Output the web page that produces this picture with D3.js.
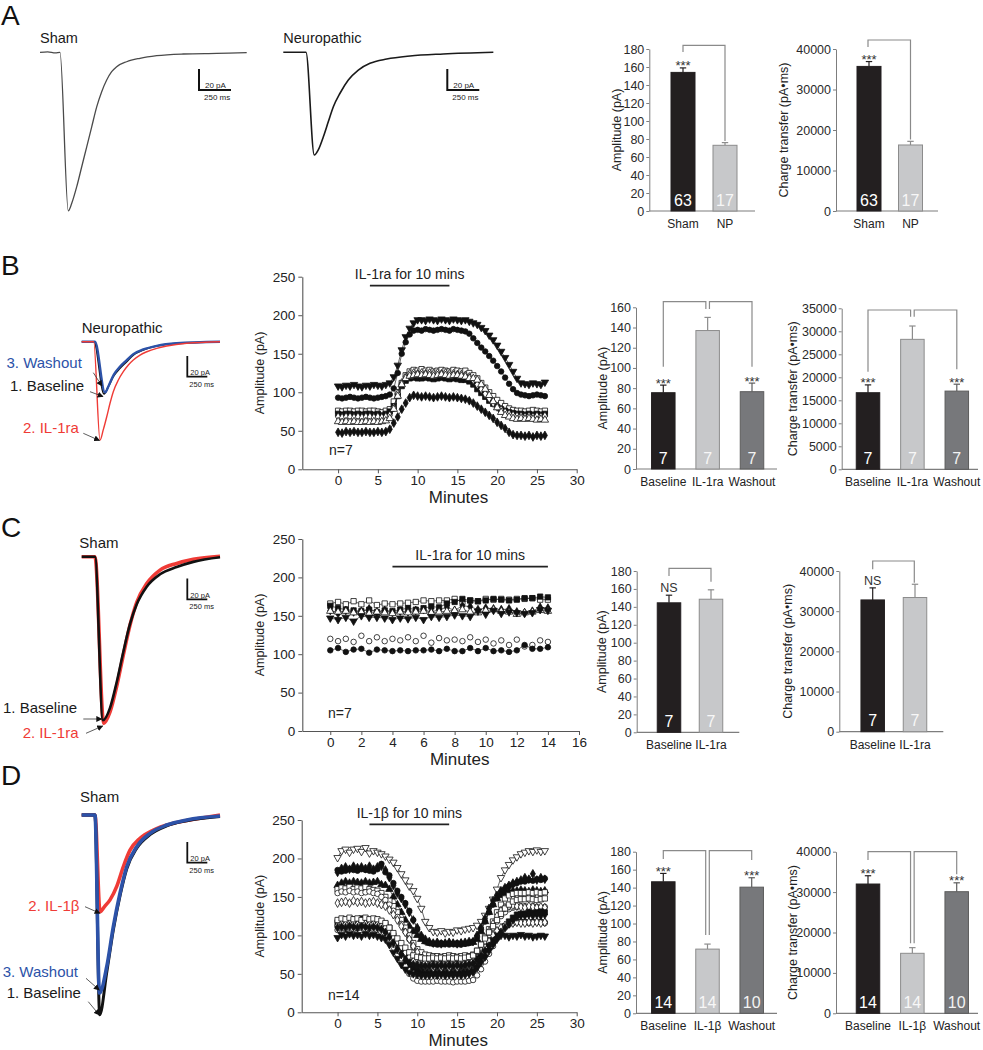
<!DOCTYPE html>
<html><head><meta charset="utf-8">
<script src="https://cdn.jsdelivr.net/npm/d3@7"></script>
<style>body{margin:0;background:#fff} svg{display:block}</style>
</head><body><svg id="fig" width="983" height="1050"></svg>
<script>
// ---------------- DATA ----------------
// Panel A bars
const catA = ["Sham", "NP"];
const ampA = [154, 73];
const ampAErr = [5, 3];
const chgA = [35700, 16300];
const chgAErr = [1200, 900];
const nA = ["63", "17"];
const sigA = ["***", ""];
// Panel B bars
const catB = ["Baseline", "IL-1ra", "Washout"];
const ampB = [75.5, 137, 76.5];
const ampBErr = [7.5, 13, 8.5];
const chgB = [16650, 28250, 17000];
const chgBErr = [1700, 2900, 1500];
const nB = ["7", "7", "7"];
const sigB = ["***", "", "***"];
// Panel C bars
const catC = ["Baseline", "IL-1ra"];
const ampC = [144.5, 148.5];
const ampCErr = [8.5, 10.5];
const chgC = [32800, 33400];
const chgCErr = [3000, 3300];
const nC = ["7", "7"];
const sigC = ["NS", ""];
// Panel D bars
const catD = ["Baseline", "IL-1\u03b2", "Washout"];
const ampD = [146.5, 71.5, 140.5];
const ampDErr = [9.3, 5.6, 10.5];
const chgD = [32000, 14850, 30100];
const chgDErr = [2050, 1400, 2200];
const nD = ["14", "14", "10"];
const sigD = ["***", "", "***"];

// axis ticks
const ticksAmp180 = [0,20,40,60,80,100,120,140,160,180];
const ticksAmp160 = [0,20,40,60,80,100,120,140,160];
const ticksChg40k = [0,10000,20000,30000,40000];
const ticksChg35k = [0,5000,10000,15000,20000,25000,30000,35000];
const ticksTCy = [0,50,100,150,200,250];
const ticksTCx30 = [0,5,10,15,20,25,30];
const ticksTCx16 = [0,2,4,6,8,10,12,14,16];

// Time-course sample times (min)
const tB = [0,0.5,1,1.5,2,2.5,3,3.5,4,4.5,5,5.5,6,6.5,7,7.5,8,8.5,9,9.5,10,10.5,11,11.5,12,12.5,13,13.5,14,14.5,15,15.5,16,16.5,17,17.5,18,18.5,19,19.5,20,20.5,21,21.5,22,22.5,23,23.5,24,24.5,25,25.5,26];
const tD = [0,0.5,1,1.5,2,2.5,3,3.5,4,4.5,5,5.5,6,6.5,7,7.5,8,8.5,9,9.5,10,10.5,11,11.5,12,12.5,13,13.5,14,14.5,15,15.5,16,16.5,17,17.5,18,18.5,19,19.5,20,20.5,21,21.5,22,22.5,23,23.5,24,24.5,25,25.5,26];
const tC = [0,0.5,1,1.5,2,2.5,3,3.5,4,4.5,5,5.5,6,6.5,7,7.5,8,8.5,9,9.5,10,10.5,11,11.5,12,12.5,13,13.5,14];

// Panel B time course (pA), n=7
const tcB1 = [108,107,109,108,110,108,107,109,108,110,109,108,110, 112,120,135,155,172,183,190,194, 194,193,195,194,193,195,194,193,195,194,193,194,192, 190,188,184,180,174,168,161,153,145,136,127,118, 112,111,110,112,111,110,113];
const tcB2 = [93,92,93,94,93,92,93,94,93,92,93,94,95, 97,105,125,150,165,175,180,181, 180,182,181,180,181,182,181,180,182,181,180,179,176, 170,164,158,153,147,141,134,127,119,111,104,99, 97,96,95,96,97,96,95];
const tcB3 = [76,75,76,76,75,76,76,75,76,76,75,74,76, 78,88,100,112,122,127,129,128, 130,128,129,127,128,129,128,127,129,128,127,128,125, 122,118,112,106,100,95,90,86,82,79,77,76, 76,75,76,77,76,75,76];
const tcB4 = [72,71,72,72,71,72,71,72,72,71,72,70,72, 75,82,95,108,115,118,119,118, 118,119,118,117,118,119,118,117,118,117,116,116,114, 110,104,99,94,89,85,81,78,76,74,73,72, 72,71,72,71,72,71,72];
const tcB5 = [68,67,68,68,67,68,67,68,68,67,68,67,68, 70,80,98,112,120,124,125,124, 125,124,125,124,125,124,125,124,124,123,123,122,120, 116,110,104,98,92,86,81,77,74,72,70,69, 69,68,69,68,69,68,69];
const tcB6 = [62,61,62,61,62,61,61,62,61,62,61,62,63, 66,78,95,110,118,121,122,123, 122,123,122,121,122,123,122,121,122,122,121,120,118, 118,116,110,104,96,88,80,74,70,68,66,65, 66,65,66,65,64,65,64];
const tcB7 = [48,47,49,48,49,48,48,49,48,48,49,48,49, 52,60,68,78,86,93,96,95, 94,95,94,93,94,95,94,93,94,93,92,91,89, 86,82,78,74,70,66,61,57,53,48,45,44, 44,43,44,42,44,43,44];

// Panel C time course (pA), n=7
const tcC1 = [166,168,165,169,165,170,164,166,165,166,167,168,170,169,170,170,172,168,170,169,172,171,172,171,172,172,173,171,171];
const tcC2 = [163,160,158,157,156,158,155,157,156,158,160,158,160,162,161,166,168,172,170,169,170,172,171,170,171,173,173,175,174];
const tcC3 = [157,153,157,155,156,159,155,157,154,156,155,157,158,155,158,161,157,163,162,158,160,159,158,159,155,154,156,161,160];
const tcC4 = [156,155,156,154,155,153,155,154,153,155,154,155,156,154,155,156,157,158,155,154,157,158,156,155,152,154,155,157,156];
const tcC5 = [147,145,148,143,150,148,148,147,145,147,146,148,145,149,148,149,151,150,149,156,152,157,153,155,154,153,154,158,157];
const tcC6 = [120,117,120,116,124,117,122,117,120,118,122,117,124,115,121,118,119,117,122,116,119,114,118,112,119,110,112,118,116];
const tcC7 = [105,108,103,106,107,102,106,105,104,105,104,105,105,106,104,107,104,104,108,104,108,104,105,103,105,112,107,107,109];

// Panel D time course (pA), n=14
const tcD1 = [201,210,212,208,212,213,209,214,207,210,208,206,203, 199,195,188,180,172,164,158,148,135,118, 110,105,104,106,103,105,104,107,106,108,109,110, 113,118,126,135,147,160,175,185,192,198,202,206, 208,210,209,211,209,210];
const tcD2 = [182,187,189,186,190,188,189,187,190,186,189,190,185, 175,165,155,148,140,130,120,110,100,95, 92,90,91,89,90,91,90,89,90,91,92,92, 100,110,122,135,145,152,158,162,165,168,170,172, 175,173,180,172,175,173];
const tcD3 = [185,183,184,186,185,184,186,185,184,183,186,193,182, 178,168,158,150,142,132,120,108,98,92, 90,89,88,90,89,88,89,90,88,89,90,92, 98,108,118,130,140,148,155,160,164,166,168,170, 170,172,171,173,172,174];
const tcD4 = [165,168,170,168,170,169,168,170,168,169,170,166,165, 160,150,140,130,120,112,105,100,95,92, 90,89,90,88,89,90,89,88,90,89,90,91, 95,105,118,130,140,148,152,155,157,158,158,159, 158,157,159,158,157,158];
const tcD5 = [160,162,161,163,160,162,161,163,160,159,158,155,150, 145,138,130,120,110,100,90,82,78,75, 74,73,73,72,73,74,73,72,73,74,73,75, 80,88,98,108,118,130,140,148,152,154,155,155, 155,156,155,156,155,156];
const tcD6 = [155,157,156,158,156,157,155,156,157,155,154,150,146, 140,132,124,115,105,95,85,75,68,65, 64,63,64,63,64,63,64,63,64,64,65,66, 72,80,90,100,110,118,125,130,134,136,137,138, 138,137,138,137,136,137];
const tcD7 = [142,143,144,142,145,143,144,142,143,144,142,140,138, 133,127,120,112,104,95,86,78,70,65, 62,61,62,61,62,61,62,61,62,61,62,63, 70,80,92,105,115,125,132,136,138,139,138,137, 136,138,137,136,137,136];
const tcD8 = [117,119,120,118,121,119,122,118,120,121,119,117,115, 110,100,90,80,70,62,58,55,53,52, 52,51,52,53,52,51,52,53,52,53,54,56, 62,70,78,85,92,98,105,112,118,123,127,128, 128,130,129,130,131,130];
const tcD9 = [112,113,112,114,113,112,114,113,112,113,112,110,107, 102,96,90,82,74,66,60,58,57,56, 56,55,56,55,56,55,56,55,56,56,57,58, 64,72,80,88,95,102,108,112,115,117,118,118, 118,117,118,117,118,117];
const tcD10 = [107,109,108,110,108,109,110,108,109,108,107,104,100, 95,88,80,70,60,50,44,41,40,40, 40,40,41,40,40,40,39,40,40,40,41,42, 48,56,66,76,86,96,104,110,114,116,117,117, 117,116,117,118,117,116];
const tcD11 = [113,115,114,116,115,114,116,115,114,115,114,112,110, 105,98,92,85,78,72,66,62,60,59, 59,58,59,58,59,58,59,58,59,60,60,62, 68,76,84,92,100,106,110,113,115,116,117,116, 116,117,116,117,116,117];
const tcD12 = [97,101,99,102,100,101,99,102,100,101,99,97,95, 88,78,70,62,56,52,50,49,48,48, 48,49,48,49,48,49,48,49,48,49,50,52, 58,65,72,80,88,95,100,100,98,100,99,101, 99,100,98,99,100,99];
const tcD13 = [110,111,110,112,111,110,112,111,110,111,110,108,104, 98,90,82,75,68,64,62,61,60,60, 60,61,60,61,60,61,60,61,60,61,62,63, 68,74,80,86,92,98,104,110,115,120,124,126, 126,127,126,127,126,127];
const tcD14 = [120,122,121,123,121,122,120,123,121,122,121,119,116, 110,103,96,90,84,78,74,72,71,70, 70,71,70,71,70,71,70,71,70,71,72,74, 80,88,96,104,112,120,128,135,140,144,146,147, 147,148,147,146,147,148];

// Current traces: [time (ms), current (pA)]
const traceShamA = [[0,0],[60,0.5],[120,-0.5],[156,0],[221,-151],[248,-143.8],[287,-128],[326,-109],[365,-90],[404,-71],[443,-52],[482,-37.5],[521,-26.4],[560,-18.5],[599,-13.7],[677,-9],[781,-5.7],[912,-3.2],[1120,-1.6],[1380,-1],[1615,-0.4]];
const traceNPA = [[0,0],[177,0],[242,-97.8],[273,-93],[313,-80.4],[352,-66],[391,-51.8],[443,-39],[508,-26.4],[586,-16.9],[677,-10.5],[808,-6.4],[990,-3.5],[1250,-1.6],[1641,0]];
const traceBBase = [[0,0],[154,0],[279,-50.5],[333,-43.5],[395,-33.8],[479,-25.7],[563,-19.3],[645,-12.9],[770,-8],[938,-4.2],[1188,-1.5],[1729,0]];
const traceBIL1ra = [[0,0],[150,0],[229,-95],[270,-85],[313,-72.5],[354,-59.5],[395,-48.3],[458,-37],[520,-29],[583,-22.5],[645,-17.7],[729,-12.9],[813,-9.7],[938,-6.4],[1063,-4.2],[1313,-1.5],[1729,0]];
const traceBWash = [[0,0],[166,0],[291,-49],[340,-42],[400,-32],[480,-24],[560,-18],[645,-12],[770,-7.5],[938,-4],[1188,-1.5],[1729,0]];
const traceCBase = [[0,0],[166,0],[265,-158],[354,-146],[438,-121],[520,-92],[604,-65],[688,-46],[813,-29],[979,-17],[1188,-10],[1395,-5],[1729,-0.6]];
const traceCIL1ra = [[0,0],[166,0],[275,-161],[354,-150],[438,-125],[520,-95],[604,-66],[688,-44],[813,-26],[979,-13],[1188,-6.5],[1395,-2.5],[1729,0.5]];
const traceDBase = [[0,0],[166,0],[225,-193],[313,-152],[395,-111],[479,-78],[563,-52],[688,-32],[854,-19],[1063,-10.5],[1313,-5.5],[1729,-1.5]];
const traceDIL1b = [[0,0],[166,0],[229,-93.4],[290,-88],[354,-82],[438,-69],[520,-50],[604,-34],[729,-22.5],[896,-14.5],[1146,-8],[1479,-3.2],[1729,0]];
const traceDWash = [[0,0],[166,0],[222,-172],[313,-146.6],[395,-108],[479,-75.6],[563,-50],[688,-30.6],[854,-17.7],[1063,-9.7],[1313,-4.8],[1729,-1]];

// ---------------- DRAWING ----------------
const FONT = '"Liberation Sans", Arial, Helvetica, sans-serif';
const AXC = "#7d7d7d";
const RED = "#ef3b36";
const BLUE = "#2c52a8";
const svg = d3.select("#fig");

const defs = svg.append("defs");
defs.append("marker").attr("id", "arr").attr("viewBox", "0 0 10 10")
  .attr("refX", 9).attr("refY", 5).attr("markerWidth", 6).attr("markerHeight", 6)
  .attr("markerUnits", "userSpaceOnUse").attr("orient", "auto")
  .append("path").attr("d", "M0,0L10,5L0,10z").attr("fill", "#111");

function txt(x, y, s, size, fill, anchor) {
  return svg.append("text").attr("x", x).attr("y", y).text(s)
    .attr("font-size", size).attr("font-family", FONT)
    .attr("fill", fill || "#222").attr("text-anchor", anchor || "start");
}
function vtxt(cx, cy, s, size) {
  return svg.append("text").attr("transform", `translate(${cx},${cy}) rotate(-90)`)
    .attr("text-anchor", "middle").attr("font-size", size).attr("font-family", FONT)
    .attr("fill", "#222").text(s);
}
function arrow(x1, y1, x2, y2) {
  svg.append("line").attr("x1", x1).attr("y1", y1).attr("x2", x2).attr("y2", y2)
    .attr("stroke", "#333").attr("stroke-width", 0.8).attr("marker-end", "url(#arr)");
}

// Panel letters
txt(1, 25, "A", 28, "#111");
txt(1, 275, "B", 28, "#111");
txt(1, 537, "C", 28, "#111");
txt(1, 785, "D", 28, "#111");

// -------- traces --------
function traceScales(x0, y0, msPx, paPx) {
  const x = d3.scaleLinear().domain([0, 250]).range([x0, x0 + 250 * msPx]);
  const y = d3.scaleLinear().domain([0, -20]).range([y0, y0 + 20 * paPx]);
  return { x, y };
}
function drawTrace(sc, data, color, width) {
  svg.append("path").datum(data)
    .attr("d", d3.line().x(d => sc.x(d[0])).y(d => sc.y(d[1])).curve(d3.curveMonotoneX))
    .attr("fill", "none").attr("stroke", color).attr("stroke-width", width)
    .attr("stroke-linejoin", "round");
}
function scaleBar(sc, bx, by, fs, lw, tdx, t1dy, t2dy) {
  const h = sc.y(-20) - sc.y(0), w = sc.x(250) - sc.x(0);
  svg.append("path").attr("d", `M${bx},${by - h}V${by}H${bx + w}`)
    .attr("fill", "none").attr("stroke", "#111").attr("stroke-width", lw);
  txt(bx + tdx, by + t1dy, "20 pA", fs, "#222");
  txt(bx + tdx - 1, by + t2dy, "250 ms", fs, "#222");
}

// A
const scShamA = traceScales(40, 52.3, 0.128, 1.05);
drawTrace(scShamA, traceShamA, "#4a4a4a", 1.3);
scaleBar(scShamA, 199, 90, 8, 2, 6, -2.5, 9.5);
txt(40, 43, "Sham", 14.5, "#1a1a1a");
const scNPA = traceScales(283.3, 52.3, 0.128, 1.05);
drawTrace(scNPA, traceNPA, "#1a1a1a", 1.6);
scaleBar(scNPA, 447.3, 90, 8, 2, 6, -2.5, 9.5);
txt(283.3, 43, "Neuropathic", 14.5, "#1a1a1a");

// B
const scB = traceScales(81.7, 341.7, 0.08, 1.035);
drawTrace(scB, traceBBase, "#111", 1.6);
drawTrace(scB, traceBWash, BLUE, 2.4);
drawTrace(scB, traceBIL1ra, RED, 1.4);
scaleBar(scB, 187.3, 376.7, 7.5, 1.8, 3, -1.5, 10);
txt(81.7, 333.3, "Neuropathic", 15, "#1a1a1a");
txt(6.5, 368, "3. Washout", 15, BLUE);
txt(10, 390.5, "1. Baseline", 15, "#1a1a1a");
txt(23, 432.5, "2. IL-1ra", 15, RED);
arrow(93.3, 372.7, 102, 386);
arrow(90, 391.7, 103, 396.5);
arrow(83.3, 433.3, 99.5, 440.5);

// C
const scC = traceScales(81.7, 556.7, 0.08, 1.035);
drawTrace(scC, traceCIL1ra, RED, 3.6);
drawTrace(scC, traceCBase, "#111", 2.6);
scaleBar(scC, 187.3, 599.3, 7.5, 1.8, 3, -1.5, 10);
txt(79.3, 547.5, "Sham", 15, "#1a1a1a");
txt(3, 713.3, "1. Baseline", 15, "#1a1a1a");
txt(22.7, 738.3, "2. IL-1ra", 15, RED);
arrow(83.3, 719, 101.7, 719);
arrow(86, 733.3, 102.7, 726);

// D
const scD = traceScales(81.7, 815, 0.08, 1.035);
drawTrace(scD, traceDIL1b, RED, 3.6);
drawTrace(scD, traceDBase, "#111", 3);
drawTrace(scD, traceDWash, BLUE, 3.6);
scaleBar(scD, 187.3, 862.7, 7.5, 1.8, 3, -1.5, 10.5);
txt(80, 801.5, "Sham", 15, "#1a1a1a");
txt(28.3, 911, "2. IL-1\u03b2", 15, RED);
txt(2.7, 976.7, "3. Washout", 15, BLUE);
txt(6.7, 998.3, "1. Baseline", 15, "#1a1a1a");
arrow(85, 906.7, 100, 913.3);
arrow(86, 978.3, 99.3, 990);
arrow(88.3, 1001.7, 99.3, 1015);

// -------- bar charts --------
const BLK = { fill: "#231f20", stroke: "#231f20", err: "#231f20", num: "#ffffff" };
const LGT = { fill: "#c7c8ca", stroke: "#8c8c8c", err: "#8c8c8c", num: "#f7f7f7" };
const DRK = { fill: "#77787b", stroke: "#5c5c5c", err: "#5c5c5c", num: "#f3f3f3" };

function barChart(o) {
  const g = svg.append("g");
  const y = d3.scaleLinear().domain([0, o.max]).range([o.y0, o.yTop]);
  const x = d3.scalePoint().domain(o.cats).range([o.c0, o.c1]);
  const gy = g.append("g").attr("transform", `translate(${o.ax},0)`)
    .call(d3.axisLeft(y).tickValues(o.ticks).tickSize(3).tickSizeOuter(0).tickPadding(2).tickFormat(d3.format("d")));
  gy.attr("font-family", FONT).attr("font-size", 12.5);
  gy.select(".domain").attr("stroke", AXC);
  gy.selectAll(".tick line").attr("stroke", AXC);
  gy.selectAll(".tick text").attr("fill", "#2a2a2a");
  g.append("line").attr("x1", o.ax).attr("x2", o.xEnd).attr("y1", o.y0).attr("y2", o.y0)
    .attr("stroke", AXC).attr("stroke-width", 1.2);
  o.cats.forEach((c, i) => {
    const cx = x(c), v = o.vals[i], e = o.errs[i], col = o.colors[i];
    g.append("line").attr("x1", cx).attr("x2", cx).attr("y1", y(v)).attr("y2", y(v + e))
      .attr("stroke", col.err).attr("stroke-width", 1.2);
    g.append("line").attr("x1", cx - 3.2).attr("x2", cx + 3.2).attr("y1", y(v + e)).attr("y2", y(v + e))
      .attr("stroke", col.err).attr("stroke-width", 1.2);
    g.append("rect").attr("x", cx - o.bw / 2).attr("y", y(v)).attr("width", o.bw)
      .attr("height", o.y0 - y(v)).attr("fill", col.fill).attr("stroke", col.stroke).attr("stroke-width", 1);
    g.append("text").attr("x", cx).attr("y", o.y0 - 5.5).attr("text-anchor", "middle")
      .attr("font-family", FONT).attr("font-size", 16).attr("fill", col.num).text(o.ns[i]);
    g.append("text").attr("x", cx).attr("y", o.y0 + 17).attr("text-anchor", "middle")
      .attr("font-family", FONT).attr("font-size", 12).attr("fill", "#222").text(c);
    const s = o.sig[i];
    if (s) {
      const yy = s === "NS" ? y(v + e) - 3 : y(v + e) + 2.5;
      g.append("text").attr("x", cx).attr("y", yy).attr("text-anchor", "middle")
        .attr("font-family", FONT).attr("font-size", s === "NS" ? 12.5 : 13).attr("fill", "#333").text(s);
    }
  });
  o.brackets.forEach(b => {
    const xa = x(o.cats[b.a]) + (b.oa || 0), xb = x(o.cats[b.b]) + (b.ob || 0);
    g.append("path").attr("d", `M${xa},${b.da}V${b.top}H${xb}V${b.db}`)
      .attr("fill", "none").attr("stroke", "#8a8a8a").attr("stroke-width", 1.2);
  });
  vtxt(o.lx, (o.y0 + o.yTop) / 2, o.label, 12.5);
}

const LBL_AMP = "Amplitude (pA)";
const LBL_CHG = "Charge transfer (pA\u2022ms)";

// A
barChart({ cats: catA, vals: ampA, errs: ampAErr, ns: nA, sig: sigA, colors: [BLK, LGT],
  max: 180, ticks: ticksAmp180, ax: 649.3, xEnd: 755, y0: 211, yTop: 49, c0: 683, c1: 725, bw: 24,
  brackets: [{ a: 0, b: 1, top: 45.3, da: 52, db: 141 }], lx: 621, label: LBL_AMP });
barChart({ cats: catA, vals: chgA, errs: chgAErr, ns: nA, sig: sigA, colors: [BLK, LGT],
  max: 40000, ticks: ticksChg40k, ax: 836, xEnd: 938, y0: 211, yTop: 49, c0: 869, c1: 910.5, bw: 24,
  brackets: [{ a: 0, b: 1, top: 40, da: 47, db: 139.5, oa: -1 }], lx: 788, label: LBL_CHG });
// B
barChart({ cats: catB, vals: ampB, errs: ampBErr, ns: nB, sig: sigB, colors: [BLK, LGT, DRK],
  max: 160, ticks: ticksAmp160, ax: 636, xEnd: 777, y0: 469, yTop: 307.3, c0: 663.3, c1: 752, bw: 23.5,
  brackets: [{ a: 0, b: 1, top: 301.7, da: 366.7, db: 309, ob: -1.8 }, { a: 1, b: 2, top: 301.7, da: 309, db: 366.7, oa: 1.8 }],
  lx: 607, label: LBL_AMP });
barChart({ cats: catB, vals: chgB, errs: chgBErr, ns: nB, sig: sigB, colors: [BLK, LGT, DRK],
  max: 35000, ticks: ticksChg35k, ax: 841.7, xEnd: 978, y0: 469.3, yTop: 308.3, c0: 868, c1: 956.8, bw: 23.5,
  brackets: [{ a: 0, b: 1, top: 310, da: 371.7, db: 316.7, ob: -1.8 }, { a: 1, b: 2, top: 310, da: 316.7, db: 369.3, oa: 1.8 }],
  lx: 797, label: LBL_CHG });
// C
barChart({ cats: catC, vals: ampC, errs: ampCErr, ns: nC, sig: sigC, colors: [BLK, LGT],
  max: 180, ticks: ticksAmp180, ax: 636.7, xEnd: 739.3, y0: 732.3, yTop: 571, c0: 669, c1: 711, bw: 23.5,
  brackets: [{ a: 0, b: 1, top: 568.3, da: 576, db: 581.7 }], lx: 606, label: LBL_AMP });
barChart({ cats: catC, vals: chgC, errs: chgCErr, ns: nC, sig: sigC, colors: [BLK, LGT],
  max: 40000, ticks: ticksChg40k, ax: 839.3, xEnd: 943.3, y0: 731.7, yTop: 571, c0: 872.7, c1: 915, bw: 23.5,
  brackets: [{ a: 0, b: 1, top: 561, da: 569.3, db: 582.7, ob: -0.7 }], lx: 792, label: LBL_CHG });
// D
barChart({ cats: catD, vals: ampD, errs: ampDErr, ns: nD, sig: sigD, colors: [BLK, LGT, DRK],
  max: 180, ticks: ticksAmp180, ax: 636, xEnd: 777, y0: 1013.3, yTop: 851.7, c0: 663.3, c1: 751.7, bw: 23.5,
  brackets: [{ a: 0, b: 1, top: 850.7, da: 859, db: 935, ob: -1.8 }, { a: 1, b: 2, top: 850.7, da: 935, db: 860, oa: 1.8 }],
  lx: 607, label: LBL_AMP });
barChart({ cats: catD, vals: chgD, errs: chgDErr, ns: nD, sig: sigD, colors: [BLK, LGT, DRK],
  max: 40000, ticks: ticksChg40k, ax: 836, xEnd: 978, y0: 1013.3, yTop: 851.7, c0: 868, c1: 956.7, bw: 23.5,
  brackets: [{ a: 0, b: 1, top: 851.7, da: 860, db: 943.3, ob: -1.8 }, { a: 1, b: 2, top: 851.7, da: 943.3, db: 874.3, oa: 1.8 }],
  lx: 797, label: LBL_CHG });

// -------- time courses --------
const SYM = { circle: d3.symbolCircle, square: d3.symbolSquare, tri: d3.symbolTriangle, downTri: d3.symbolTriangle, diamond: d3.symbolDiamond };
const SYMSIZE = { circle: 24, square: 28, tri: 24, downTri: 24, diamond: 22 };

function timeCourse(o) {
  const g = svg.append("g");
  const x = d3.scaleLinear().domain(o.xDom).range([o.ax, o.xEnd]);
  const y = d3.scaleLinear().domain([0, 250]).range([o.y0, o.yTop]);
  const gx = g.append("g").attr("transform", `translate(0,${o.y0})`)
    .call(d3.axisBottom(x).tickValues(o.xTicks).tickSize(4).tickSizeOuter(0).tickPadding(2));
  const gy = g.append("g").attr("transform", `translate(${o.ax},0)`)
    .call(d3.axisLeft(y).tickValues(ticksTCy).tickSize(4).tickSizeOuter(0).tickPadding(3));
  [gx, gy].forEach(a => {
    a.attr("font-family", FONT).attr("font-size", 13.5);
    a.select(".domain").attr("stroke", "#555").attr("stroke-width", 1.1);
    a.selectAll(".tick line").attr("stroke", "#555");
    a.selectAll(".tick text").attr("fill", "#222");
  });
  o.series.forEach((vals, i) => {
    const st = o.styles[i];
    const pts = o.t.map((t, j) => [t, vals[j]]);
    if (st.line !== false) {
      g.append("path").datum(pts).attr("d", d3.line().x(d => x(d[0])).y(d => y(d[1])))
        .attr("fill", "none").attr("stroke", "#222").attr("stroke-width", 0.7);
    }
    g.append("g").selectAll("path").data(pts).join("path")
      .attr("transform", d => `translate(${x(d[0])},${y(d[1])})` + (st.sym === "downTri" ? " rotate(180)" : ""))
      .attr("d", d3.symbol().type(SYM[st.sym]).size(SYMSIZE[st.sym]))
      .attr("fill", st.fill ? "#111" : "#fff").attr("stroke", "#111").attr("stroke-width", 0.8);
  });
  g.append("line").attr("x1", x(o.drug[0])).attr("x2", x(o.drug[1])).attr("y1", o.drugY).attr("y2", o.drugY)
    .attr("stroke", "#222").attr("stroke-width", 1.8);
  g.append("text").attr("x", x((o.drug[0] + o.drug[1]) / 2)).attr("y", o.drugY - 6.5).attr("text-anchor", "middle")
    .attr("font-family", FONT).attr("font-size", 14).attr("fill", "#222").text(o.drugText);
  g.append("text").attr("x", o.nx).attr("y", o.ny).attr("font-family", FONT).attr("font-size", 14)
    .attr("fill", "#222").text(o.nText);
  g.append("text").attr("x", (o.ax + o.xEnd) / 2 + 19).attr("y", o.y0 + 34).attr("text-anchor", "middle")
    .attr("font-family", FONT).attr("font-size", 17).attr("fill", "#222").text("Minutes");
  vtxt(264, (o.y0 + o.yTop) / 2, "Amplitude (pA)", 12.5);
}

timeCourse({ t: tB, series: [tcB1, tcB2, tcB3, tcB4, tcB5, tcB6, tcB7],
  styles: [{ sym: "downTri", fill: true }, { sym: "circle", fill: true }, { sym: "square", fill: false },
           { sym: "square", fill: true }, { sym: "diamond", fill: false }, { sym: "tri", fill: false }, { sym: "diamond", fill: true }],
  xDom: [-4.5, 30], xTicks: ticksTCx30, ax: 302.3, xEnd: 576.7, y0: 469.3, yTop: 276.7,
  drug: [4, 14], drugY: 285.7, drugText: "IL-1ra for 10 mins", nText: "n=7", nx: 329, ny: 455 });

timeCourse({ t: tC, series: [tcC1, tcC2, tcC3, tcC4, tcC5, tcC6, tcC7],
  styles: [{ sym: "square", fill: false }, { sym: "square", fill: true }, { sym: "diamond", fill: true },
           { sym: "tri", fill: false }, { sym: "downTri", fill: true }, { sym: "circle", fill: false, line: false }, { sym: "circle", fill: true }],
  xDom: [-1.8, 16], xTicks: ticksTCx16, ax: 302.3, xEnd: 579, y0: 731, yTop: 539,
  drug: [4, 14], drugY: 566.7, drugText: "IL-1ra for 10 mins", nText: "n=7", nx: 328, ny: 718 });

timeCourse({ t: tD, series: [tcD1, tcD2, tcD3, tcD4, tcD5, tcD6, tcD7, tcD8, tcD9, tcD10, tcD11, tcD12, tcD13, tcD14],
  styles: [{ sym: "downTri", fill: false }, { sym: "diamond", fill: true }, { sym: "circle", fill: true },
           { sym: "tri", fill: true }, { sym: "square", fill: false }, { sym: "circle", fill: false },
           { sym: "diamond", fill: false }, { sym: "square", fill: true }, { sym: "circle", fill: true },
           { sym: "circle", fill: false }, { sym: "diamond", fill: false }, { sym: "downTri", fill: true },
           { sym: "diamond", fill: true }, { sym: "square", fill: false }],
  xDom: [-4.5, 30], xTicks: ticksTCx30, ax: 301.7, xEnd: 576.7, y0: 1012.3, yTop: 820,
  drug: [4, 14], drugY: 824.3, drugText: "IL-1\u03b2 for 10 mins", nText: "n=14", nx: 328, ny: 1000 });
</script></body></html>
